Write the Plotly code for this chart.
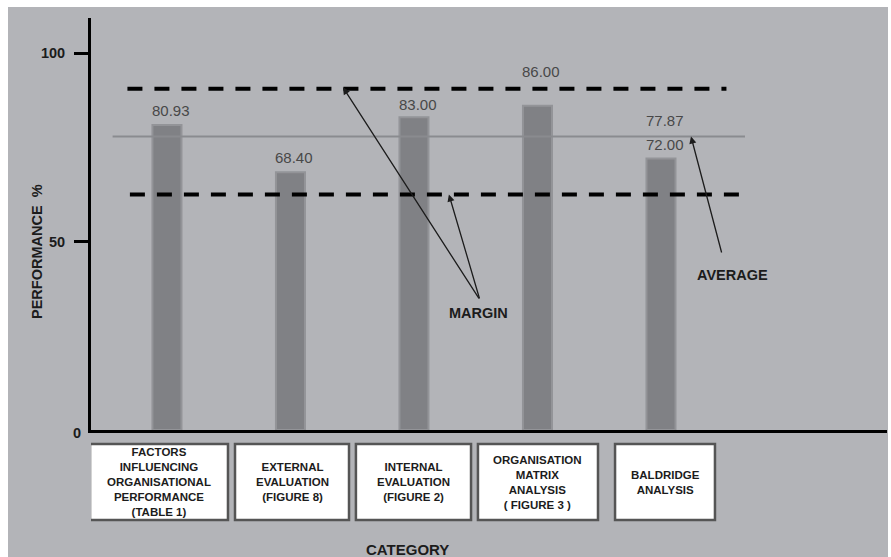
import plotly.graph_objects as go

# --- data -------------------------------------------------------------
categories = [
    "FACTORS<br>INFLUENCING<br>ORGANISATIONAL<br>PERFORMANCE<br>(TABLE 1)",
    "EXTERNAL<br>EVALUATION<br>(FIGURE 8)",
    "INTERNAL<br>EVALUATION<br>(FIGURE 2)",
    "ORGANISATION<br>MATRIX<br>ANALYSIS<br>( FIGURE 3 )",
    "BALDRIDGE<br>ANALYSIS",
]
performance = [80.93, 68.40, 83.00, 86.00, 72.00]
average = 77.87
margin_upper = 90.5
margin_lower = 62.5
y_tick_values = [50, 100]

# --- styling ------------------------------------------------------------
BG = "#b3b4b8"
BAR = "#808185"
BAR_EDGE = "#939498"
AVG_LINE = "#8a8b8f"
INK = "#1c1c1c"
NUM = "#484848"
FONT = "Liberation Sans, Arial, sans-serif"

# categories sit at integer slots on a numeric x axis
slots = list(range(len(categories)))

fig = go.Figure()

# average line sits behind the bars
fig.add_trace(go.Scatter(
    x=[-0.44, 4.68], y=[average, average], mode="lines",
    line=dict(color=AVG_LINE, width=2), hoverinfo="skip",
))

fig.add_trace(go.Bar(
    x=slots,
    y=performance,
    width=0.235,
    marker=dict(color=BAR, line=dict(color=BAR_EDGE, width=2)),
    hoverinfo="skip",
))

# margin lines drawn over the bars
fig.add_trace(go.Scatter(
    x=[-0.32, 4.53], y=[margin_upper, margin_upper], mode="lines",
    line=dict(color="black", width=4, dash="15px,12px"), hoverinfo="skip",
))
fig.add_trace(go.Scatter(
    x=[-0.30, 4.68], y=[margin_lower, margin_lower], mode="lines",
    line=dict(color="black", width=4, dash="15px,12px"), hoverinfo="skip",
))

# paper-coordinate helpers (plot area: x 91..887 px, y 18..430 px)
def px_x(p):
    return (p - 91) / 796.0

def px_y(p):
    return (430 - p) / 412.0

shapes = [
    dict(type="rect", xref="paper", yref="paper", layer="below",
         x0=px_x(8), x1=px_x(888), y0=px_y(560), y1=px_y(7),
         fillcolor=BG, line=dict(width=0)),
]

annotations = []

# value labels above each bar; the tallest one is lifted clear of the margin line
label_lift = [4, 4, 2, 24, 4]
for s, v, lift in zip(slots, performance, label_lift):
    annotations.append(dict(
        x=s + 0.03, y=v, xref="x", yref="y", text=f"{v:.2f}",
        showarrow=False, yanchor="bottom", yshift=lift,
        font=dict(family=FONT, size=15, color=NUM),
    ))

# category boxes under the axis
box_extents = [(-0.623, 0.494), (0.551, 1.474), (1.530, 2.462),
               (2.518, 3.490), (3.628, 4.437)]
for (x0, x1), label in zip(box_extents, categories):
    shapes.append(dict(
        type="rect", xref="x", yref="paper", x0=x0, x1=x1,
        y0=px_y(520), y1=px_y(444), fillcolor="white",
        line=dict(color="#555555", width=2.5),
    ))
    annotations.append(dict(
        x=(x0 + x1) / 2, y=px_y(482), xref="x", yref="paper",
        text=f"<b>{label}</b>", showarrow=False,
        font=dict(family=FONT, size=11.5, color=INK),
        xanchor="center", yanchor="middle", align="center",
    ))

# average value label
annotations.append(dict(
    x=4.03, y=average, xref="x", yref="y", text=f"{average:.2f}",
    showarrow=False, yanchor="bottom", yshift=5,
    font=dict(family=FONT, size=15, color=NUM),
))

# MARGIN callout with two arrows
arrow_style = dict(showarrow=True, arrowhead=2, arrowsize=1.1, arrowwidth=1.3,
                   arrowcolor=INK, text="", xref="x", yref="y",
                   axref="x", ayref="y", standoff=0)
annotations.append(dict(x=1.425, y=margin_upper + 0.4, ax=2.534, ay=34.5, **arrow_style))
annotations.append(dict(x=2.283, y=margin_lower, ax=2.534, ay=34.5, **arrow_style))
annotations.append(dict(
    x=2.526, y=31.0, xref="x", yref="y", text="<b>MARGIN</b>", showarrow=False,
    font=dict(family=FONT, size=14.5, color=INK),
))

# AVERAGE callout
annotations.append(dict(x=4.243, y=average, ax=4.494, ay=46.7, **arrow_style))
annotations.append(dict(
    x=4.583, y=41.1, xref="x", yref="y", text="<b>AVERAGE</b>", showarrow=False,
    font=dict(family=FONT, size=14.5, color=INK),
))

# zero label at the origin (no tick mark there)
annotations.append(dict(
    x=px_x(83), y=0, xref="paper", yref="y", text="<b>0</b>", showarrow=False,
    xanchor="right", yanchor="middle", yshift=-3,
    font=dict(family=FONT, size=14.5, color=INK),
))

# axis titles
annotations.append(dict(
    x=px_x(37), y=px_y(252), xref="paper", yref="paper",
    xanchor="center", yanchor="middle",
    text="<b>PERFORMANCE  %</b>", showarrow=False, textangle=-90,
    font=dict(family=FONT, size=14.5, color=INK),
))
annotations.append(dict(
    x=px_x(407), y=px_y(549), xref="paper", yref="paper",
    xanchor="center", yanchor="middle",
    text="<b>CATEGORY</b>", showarrow=False,
    font=dict(family=FONT, size=15, color=INK),
))

fig.update_layout(
    width=891, height=557,
    margin=dict(l=91, r=4, t=18, b=127),
    paper_bgcolor="white",
    plot_bgcolor="rgba(0,0,0,0)",
    showlegend=False,
    shapes=shapes,
    annotations=annotations,
    font=dict(family=FONT, color=INK),
    xaxis=dict(
        type="linear", range=[-0.615, 5.83], showticklabels=False, ticks="",
        showgrid=False, zeroline=False, showline=True,
        linecolor="black", linewidth=3, fixedrange=True,
    ),
    yaxis=dict(
        range=[0, 109.3], tickvals=y_tick_values,
        ticktext=[f"<b>{v}</b>" for v in y_tick_values],
        ticks="outside", ticklen=14, tickwidth=3, tickcolor="black",
        ticklabelstandoff=6,
        tickfont=dict(family=FONT, size=14.5, color=INK),
        showgrid=False, zeroline=False, showline=True,
        linecolor="black", linewidth=3, fixedrange=True,
    ),
)

fig.write_html("out.html")
